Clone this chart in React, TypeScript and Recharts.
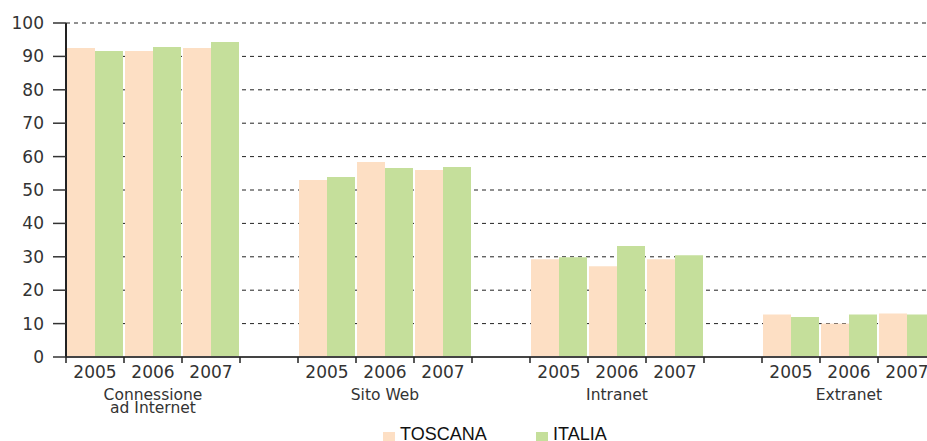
import { BarChart, Bar, XAxis, YAxis, CartesianGrid } from "recharts"

const groups = ["Connessione\nad Internet", "Sito Web", "Intranet", "Extranet"]
const years = ["2005", "2006", "2007"]
const toscana = [
  [92.5, 91.6, 92.5],
  [53.0, 58.4, 56.0],
  [29.3, 27.2, 29.3],
  [12.7, 10.0, 13.0],
]
const italia = [
  [91.6, 92.8, 94.3],
  [53.9, 56.6, 56.9],
  [29.9, 33.2, 30.5],
  [12.0, 12.7, 12.7],
]
const yTicks = [0, 10, 20, 30, 40, 50, 60, 70, 80, 90, 100]

const PEACH = "#FDDFC4"
const GREEN = "#C5DF9B"
const FONT = "'DejaVu Sans', sans-serif"

type Row = {
  slot: string
  year: string
  group: string
  toscana: number | null
  italia: number | null
}

// one slot per year, plus an empty slot between groups
const data: Row[] = []
groups.forEach((g, gi) => {
  years.forEach((y, yi) => {
    data.push({
      slot: `${gi}-${y}`,
      year: y,
      group: yi === 1 ? g : "",
      toscana: toscana[gi][yi],
      italia: italia[gi][yi],
    })
  })
  if (gi < groups.length - 1) {
    data.push({ slot: `gap-${gi}`, year: "", group: "", toscana: null, italia: null })
  }
})

const CHART_W = 940
const LEFT = 66
const RIGHT = 4
const slotW = (CHART_W - LEFT - RIGHT) / data.length

function YearTick(props: any) {
  const { x, y, payload } = props
  const row = data[payload.index]
  const lines = row.group ? row.group.split("\n") : []
  return (
    <g>
      <line x1={x - slotW / 2} x2={x - slotW / 2} y1={y} y2={y + 6} stroke="#222" strokeWidth={1.5} />
      {row.year && (
        <text x={x} y={y + 21} textAnchor="middle" fontSize={17} fill="#333" fontFamily={FONT}>
          {row.year}
        </text>
      )}
      {lines.map((l, i) => (
        <text
          key={i}
          x={x}
          y={y + 43 + i * 13}
          textAnchor="middle"
          fontSize={15.5}
          fill="#333"
          fontFamily={FONT}
        >
          {l}
        </text>
      ))}
    </g>
  )
}

export default function App() {
  return (
    <div
      style={{
        position: "absolute",
        left: 0,
        top: 0,
        width: 927,
        height: 441,
        overflow: "hidden",
        background: "#fff",
        fontFamily: FONT,
      }}
    >
      <BarChart
        width={CHART_W}
        height={441}
        data={data}
        margin={{ top: 23, right: RIGHT, bottom: 0, left: 0 }}
        barCategoryGap={1}
        barGap={0}
      >
        <XAxis
          dataKey="slot"
          interval={0}
          height={84}
          tickSize={0}
          tickMargin={0}
          tickLine={false}
          axisLine={{ stroke: "#444", strokeWidth: 2 }}
          tick={<YearTick />}
        />
        <YAxis
          width={LEFT}
          domain={[0, 100]}
          ticks={yTicks}
          interval={0}
          tickSize={13}
          tickMargin={9}
          axisLine={{ stroke: "#222", strokeWidth: 2 }}
          tickLine={{ stroke: "#333", strokeWidth: 1.5 }}
          tick={{ fill: "#333", fontSize: 17, fontFamily: FONT }}
        />
        <Bar dataKey="toscana" name="TOSCANA" fill={PEACH} isAnimationActive={false} />
        <Bar dataKey="italia" name="ITALIA" fill={GREEN} isAnimationActive={false} />
        <CartesianGrid vertical={false} stroke="#222" strokeDasharray="4 4" />
      </BarChart>
      <svg
        width={927}
        height={441}
        style={{ position: "absolute", left: 0, top: 0, pointerEvents: "none" }}
      >
        <rect x={383} y={432} width={12} height={12} fill={PEACH} />
        <text x={400} y={440} fontSize={18} fill="#111" fontFamily="'Liberation Sans', Arial, sans-serif">
          TOSCANA
        </text>
        <rect x={536} y={432} width={12} height={12} fill={GREEN} />
        <text x={553} y={440} fontSize={18} fill="#111" fontFamily="'Liberation Sans', Arial, sans-serif">
          ITALIA
        </text>
      </svg>
    </div>
  )
}
